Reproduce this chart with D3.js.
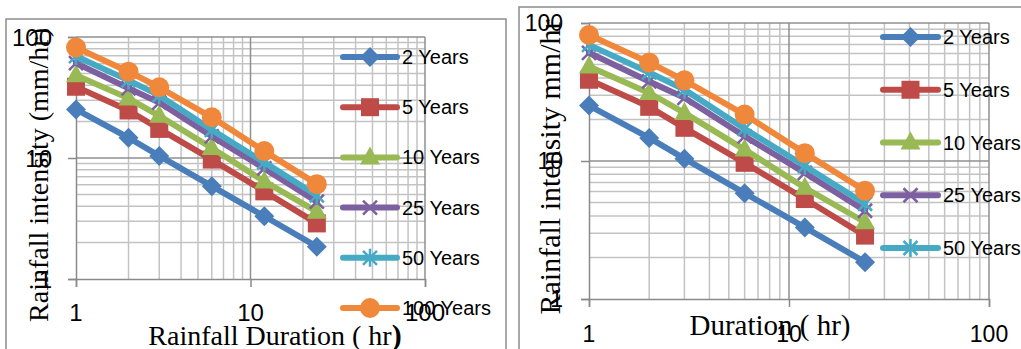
<!DOCTYPE html>
<html>
<head>
<meta charset="utf-8">
<script src="https://cdn.jsdelivr.net/npm/d3@7"></script>
<style>
body { margin: 0; background: #fff; overflow: hidden; }
svg { display: block; }
</style>
</head>
<body>
<svg id="chart" width="1021" height="349"></svg>
<script>
// data (both figures show the same IDF curves)
var durations = [1, 2, 3, 6, 12, 24];
var years2   = [25.2, 14.7, 10.4, 5.85, 3.3, 1.85];
var years5   = [38.8, 24.7, 17.4, 9.7, 5.3, 2.88];
var years10  = [48.4, 31.1, 22.3, 12.1, 6.4, 3.6];
var years25  = [60.8, 37.7, 28.7, 15.1, 8.2, 4.36];
var years50  = [69.4, 43.8, 32.9, 17.1, 9.2, 4.9];
var years100 = [81.9, 51.7, 38.4, 21.7, 11.4, 6.08];

var seriesNames  = ["2 Years", "5 Years", "10 Years", "25 Years", "50 Years", "100 Years"];
var seriesColors = ["#4a7ebb", "#be4b48", "#98b954", "#7d60a0", "#46aac5", "#f0883c"];
var markerTypes  = ["diamond", "square", "triangle", "x", "star", "circle"];
var seriesValues = [years2, years5, years10, years25, years50, years100];

var axisTicks = [1, 10, 100];

var svg = d3.select("#chart");

// clipped line of body text above the figures
svg.append("text")
    .attr("x", -4).attr("y", -1)
    .attr("font-family", "Liberation Serif")
    .attr("font-size", 26)
    .text("condition.");

function minorValues() {
    var out = [];
    [1, 10].forEach(function (dec) {
        for (var k = 2; k <= 9; k++) out.push(k * dec);
    });
    return out;
}

function drawMarker(g, type, x, y, color) {
    var s = 10;
    if (type == "diamond") {
        g.append("path").attr("d", "M" + x + "," + (y - s) + "L" + (x + s) + "," + y + "L" + x + "," + (y + s) + "L" + (x - s) + "," + y + "Z")
            .attr("fill", color);
    } else if (type == "square") {
        g.append("rect").attr("x", x - 9).attr("y", y - 9).attr("width", 18).attr("height", 18)
            .attr("fill", color);
    } else if (type == "triangle") {
        g.append("path").attr("d", "M" + x + "," + (y - 11) + "L" + (x + 10) + "," + (y + 7) + "L" + (x - 10) + "," + (y + 7) + "Z")
            .attr("fill", color);
    } else if (type == "circle") {
        g.append("circle").attr("cx", x).attr("cy", y).attr("r", 10).attr("fill", color);
    } else {
        var a = 7;
        var p = "M" + (x - a) + "," + (y - a) + "L" + (x + a) + "," + (y + a) +
                "M" + (x - a) + "," + (y + a) + "L" + (x + a) + "," + (y - a);
        if (type == "star") p += "M" + x + "," + (y - 9) + "L" + x + "," + (y + 9);
        g.append("path").attr("d", p).attr("fill", "none")
            .attr("stroke", color).attr("stroke-width", 2.5);
    }
}

function drawPanel(p) {
    var g = svg.append("g");

    // outer chart border
    g.append("rect")
        .attr("x", p.box[0]).attr("y", p.box[1])
        .attr("width", p.box[2] - p.box[0]).attr("height", p.box[3] - p.box[1])
        .attr("fill", "#fff").attr("stroke", "#8c8c8c").attr("stroke-width", 1.5);

    var x = d3.scaleLog().domain([1, 100]).range([p.x0, p.x1]);
    var y = d3.scaleLog().domain([1, 100]).range([p.y0, p.y1]);

    // minor grid
    minorValues().forEach(function (v) {
        g.append("line").attr("x1", x(v)).attr("x2", x(v)).attr("y1", p.y0).attr("y2", p.y1)
            .attr("stroke", "#c3c3c3").attr("stroke-width", 1.5);
        g.append("line").attr("x1", p.x0).attr("x2", p.x1).attr("y1", y(v)).attr("y2", y(v))
            .attr("stroke", "#c3c3c3").attr("stroke-width", 1.5);
    });
    // major grid
    [10, 100].forEach(function (v) {
        g.append("line").attr("x1", x(v)).attr("x2", x(v)).attr("y1", p.y0).attr("y2", p.y1)
            .attr("stroke", "#8f8f8f").attr("stroke-width", 1.5);
        g.append("line").attr("x1", p.x0).attr("x2", p.x1).attr("y1", y(v)).attr("y2", y(v))
            .attr("stroke", "#8f8f8f").attr("stroke-width", 1.5);
    });

    // axes with outward ticks
    var xAxis = d3.axisBottom(x).tickValues(axisTicks).tickSize(8).tickFormat("");
    var yAxis = d3.axisLeft(y).tickValues(axisTicks).tickSize(8).tickFormat("");
    [g.append("g").attr("transform", "translate(0," + p.y0 + ")").call(xAxis),
     g.append("g").attr("transform", "translate(" + p.x0 + ",0)").call(yAxis)].forEach(function (ax) {
        ax.select(".domain").attr("stroke", "#8a8a8a").attr("stroke-width", 1.5);
        ax.selectAll(".tick line").attr("stroke", "#8a8a8a").attr("stroke-width", 1.5);
    });

    // series
    var line = d3.line().x(function (d) { return x(d[0]); }).y(function (d) { return y(d[1]); });
    seriesValues.forEach(function (vals, i) {
        var pts = durations.map(function (d, j) { return [d, vals[j]]; });
        var sg = g.append("g");
        sg.append("path").attr("d", line(pts)).attr("fill", "none")
            .attr("stroke", seriesColors[i]).attr("stroke-width", 6)
            .attr("stroke-linejoin", "round").attr("stroke-linecap", "round");
        pts.forEach(function (d) {
            drawMarker(sg, markerTypes[i], x(d[0]), y(d[1]), seriesColors[i]);
        });
    });

    // tick labels
    axisTicks.forEach(function (v) {
        g.append("text").attr("x", x(v)).attr("y", p.xLabelY)
            .attr("text-anchor", "middle").attr("dominant-baseline", "central")
            .attr("font-family", "Liberation Sans").attr("font-size", p.tickSize)
            .text(v);
        g.append("text").attr("x", p.yLabelX).attr("y", y(v))
            .attr("text-anchor", "end").attr("dominant-baseline", "central")
            .attr("font-family", "Liberation Sans").attr("font-size", p.tickSize)
            .text(v);
    });

    // axis titles
    var xt = g.append("text").attr("x", p.xTitle[0]).attr("y", p.xTitle[1])
        .attr("text-anchor", "middle")
        .attr("font-family", "Liberation Serif").attr("font-size", p.titleSize);
    xt.append("tspan").text(p.xTitleText);
    if (p.boldParen) {
        xt.append("tspan").attr("font-weight", "bold").attr("font-size", p.titleSize + 2).text(")");
    }
    g.append("text")
        .attr("transform", "translate(" + p.yTitle[0] + "," + p.yTitle[1] + ") rotate(-90)")
        .attr("text-anchor", "middle").attr("dominant-baseline", "central")
        .attr("font-family", "Liberation Serif").attr("font-size", p.yTitleSize)
        .text(p.yTitleText);

    // legend
    for (var i = 0; i < p.legendCount; i++) {
        var ly = p.legendY + i * p.legendStep;
        var lg = g.append("g");
        lg.append("line").attr("x1", p.legendX[0]).attr("x2", p.legendX[1]).attr("y1", ly).attr("y2", ly)
            .attr("stroke", seriesColors[i]).attr("stroke-width", 6).attr("stroke-linecap", "round");
        drawMarker(lg, markerTypes[i], (p.legendX[0] + p.legendX[1]) / 2, ly, seriesColors[i]);
        lg.append("text").attr("x", p.legendX[1] + 5).attr("y", ly)
            .attr("dominant-baseline", "central")
            .attr("font-family", "Liberation Sans").attr("font-size", 20)
            .text(seriesNames[i]);
    }
}

drawPanel({
    box: [6, 19, 506, 365],
    x0: 76, x1: 425, y0: 279, y1: 37,
    xLabelY: 312, yLabelX: 52, tickSize: 24,
    xTitle: [275, 345], xTitleText: "Rainfall Duration ( hr", boldParen: true, titleSize: 28,
    yTitle: [38, 175], yTitleText: "Rainfall intensity (mm/hr)", yTitleSize: 28,
    legendX: [343, 397], legendY: 57, legendStep: 50.2, legendCount: 6
});

drawPanel({
    box: [519, 7, 1040, 365],
    x0: 589, x1: 989, y0: 299, y1: 23,
    xLabelY: 334, yLabelX: 563, tickSize: 23,
    xTitle: [770, 335], xTitleText: "Duration ( hr)", boldParen: false, titleSize: 29,
    yTitle: [549, 167], yTitleText: "Rainfall intensity mm/hr", yTitleSize: 30,
    legendX: [883, 938], legendY: 37, legendStep: 52.75, legendCount: 5
});
</script>
</body>
</html>
